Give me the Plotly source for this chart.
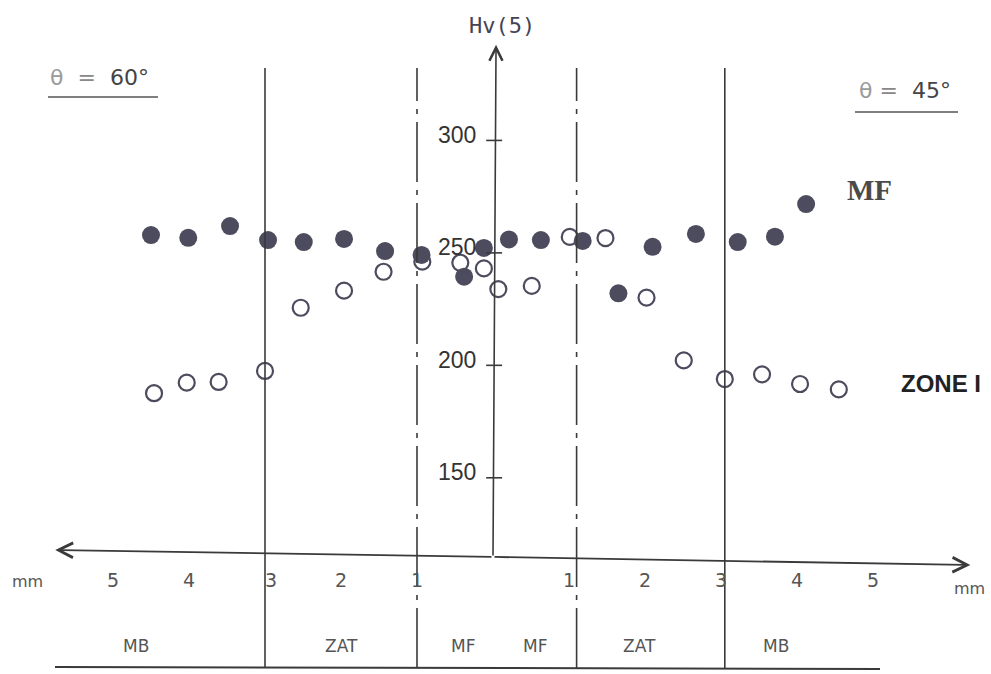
import plotly.graph_objects as go

# ---- data (mm from weld centre; left side negative) ----
mf_x = [-4.50, -4.01, -3.46, -2.96, -2.49, -1.96, -1.42, -0.94, -0.38, -0.12,
        0.21, 0.63, 1.18, 1.65, 2.10, 2.67, 3.22, 3.71, 4.12]
mf_hv = [257.9, 256.7, 261.9, 255.7, 254.8, 256.2, 250.8, 249.1, 239.4, 252.2,
         256.0, 255.7, 255.3, 232.0, 252.7, 258.4, 254.8, 257.2, 271.7]

zone_x = [-4.46, -4.03, -3.61, -3.00, -2.53, -1.96, -1.44, -0.93, -0.43, -0.12,
          0.07, 0.51, 1.01, 1.48, 2.02, 2.51, 3.05, 3.54, 4.04, 4.55]
zone_hv = [187.6, 192.3, 192.6, 197.5, 225.6, 233.2, 241.6, 246.1, 245.6, 243.1,
           233.9, 235.3, 257.1, 256.6, 230.1, 202.2, 193.9, 196.0, 191.7, 189.3]

y_ticks = [150, 200, 250, 300]
x_tick_vals = [-5, -4, -3, -2, -1, 1, 2, 3, 4, 5]
x_tick_text = ["5", "4", "3", "2", "1", "1", "2", "3", "4", "5"]
boundaries = [-3.0, -1.0, 1.1, 3.05]
zone_names = ["MB", "ZAT", "MF", "MF", "ZAT", "MB"]
zone_centres = [-4.70, -2.0, -0.40, 0.55, 1.93, 3.72]

W, H = 991, 674
X0, PXMM = 493, 76.0


def py(p):
    return 1 - p / H


dot = "#4c4c5e"
ink = "#3a3a3a"

fig = go.Figure()
fig.add_trace(go.Scatter(x=mf_x, y=mf_hv, mode="markers", name="MF",
                         marker=dict(size=18, color=dot, line=dict(width=0))))
fig.add_trace(go.Scatter(x=zone_x, y=zone_hv, mode="markers", name="ZONE I",
                         marker=dict(size=16, color="rgba(0,0,0,0)",
                                     line=dict(width=2.2, color=dot))))

x_range = [-X0 / PXMM, (W - X0) / PXMM]
y_range = [62.75, 362.44]

shapes = []
annotations = []

# zone boundaries
dash_styles = ["solid", "60px,8px,5px,8px", "60px,8px,5px,8px", "solid"]
for b, d in zip(boundaries, dash_styles):
    shapes.append(dict(type="line", xref="x", yref="paper", x0=b, x1=b,
                       y0=py(668), y1=py(68), line=dict(color=ink, width=1.6, dash=d)))

# bottom base line
shapes.append(dict(type="line", xref="paper", yref="paper", x0=55 / W, x1=880 / W,
                   y0=py(667), y1=py(669), line=dict(color=ink, width=2)))

# y axis with arrow
annotations.append(dict(x=0.04, y=342.5, ax=0, ay=114.8, xref="x", yref="y",
                        axref="x", ayref="y", text="", showarrow=True,
                        arrowhead=5, arrowsize=1.6, arrowwidth=1.6, arrowcolor=ink))
# x axis (two halves with arrows)
annotations.append(dict(x=-5.76, y=117.9, ax=0, ay=114.8, xref="x", yref="y",
                        axref="x", ayref="y", text="", showarrow=True,
                        arrowhead=5, arrowsize=1.6, arrowwidth=1.8, arrowcolor=ink))
annotations.append(dict(x=6.28, y=111.2, ax=0, ay=114.8, xref="x", yref="y",
                        axref="x", ayref="y", text="", showarrow=True,
                        arrowhead=5, arrowsize=1.6, arrowwidth=1.8, arrowcolor=ink))

# y ticks and labels
for t in y_ticks:
    shapes.append(dict(type="line", xref="x", yref="y", x0=-0.09, x1=0.12, y0=t, y1=t,
                       line=dict(color=ink, width=1.6)))
    annotations.append(dict(x=-0.2, y=t + 2.5, xref="x", yref="y", text=str(t),
                            showarrow=False, xanchor="right", yanchor="middle",
                            font=dict(family="Liberation Sans, Arial, sans-serif",
                                      size=23, color="#333333")))

# x tick labels
for v, s in zip(x_tick_vals, x_tick_text):
    annotations.append(dict(x=v + (0.08 if v == -3 else 0), y=py(580), xref="x", yref="paper",
                            text=s, showarrow=False, xanchor="center", yanchor="middle",
                            font=dict(family="DejaVu Sans, sans-serif", size=19, color="#555555")))
annotations.append(dict(x=27 / W, y=py(581), xref="paper", yref="paper", text="mm",
                        showarrow=False, xanchor="center", yanchor="middle",
                        font=dict(family="DejaVu Sans", size=16, color="#555555")))
annotations.append(dict(x=969 / W, y=py(588), xref="paper", yref="paper", text="mm",
                        showarrow=False, xanchor="center", yanchor="middle",
                        font=dict(family="DejaVu Sans", size=16, color="#555555")))

# zone labels
for n, c in zip(zone_names, zone_centres):
    annotations.append(dict(x=c, y=py(646), xref="x", yref="paper", text=n,
                            showarrow=False, xanchor="center", yanchor="middle",
                            font=dict(family="DejaVu Sans, sans-serif", size=17, color="#555555")))

# axis title
annotations.append(dict(x=502 / W, y=py(25), xref="paper", yref="paper", text="Hv(5)",
                        showarrow=False, xanchor="center", yanchor="middle",
                        font=dict(family="DejaVu Sans Mono, monospace", size=22, color="#444455")))

# theta labels
annotations.append(dict(x=48 / W, y=py(77), xref="paper", yref="paper",
                        text="<span style='color:#9a9a9a'>θ</span>  <span style='color:#888'>=</span>  60°",
                        showarrow=False, xanchor="left", yanchor="middle",
                        font=dict(family="DejaVu Sans, sans-serif", size=22, color="#444444")))
shapes.append(dict(type="line", xref="paper", yref="paper", x0=48 / W, x1=158 / W,
                   y0=py(97), y1=py(97), line=dict(color="#555555", width=1.6)))
annotations.append(dict(x=857 / W, y=py(90), xref="paper", yref="paper",
                        text="<span style='color:#9a9a9a'>θ</span> <span style='color:#888'>=</span>  45°",
                        showarrow=False, xanchor="left", yanchor="middle",
                        font=dict(family="DejaVu Sans, sans-serif", size=22, color="#444444")))
shapes.append(dict(type="line", xref="paper", yref="paper", x0=855 / W, x1=958 / W,
                   y0=py(112), y1=py(112), line=dict(color="#555555", width=1.6)))

# series labels
annotations.append(dict(x=869 / W, y=py(190), xref="paper", yref="paper", text="<b>MF</b>",
                        showarrow=False, xanchor="center", yanchor="middle",
                        font=dict(family="Liberation Serif, serif", size=29, color="#4a4a4a")))
annotations.append(dict(x=899 / W, y=py(383), xref="paper", yref="paper", text="<b>ZONE I</b>",
                        showarrow=False, xanchor="left", yanchor="middle",
                        font=dict(family="Liberation Sans, Arial, sans-serif",
                                  size=24, color="#222222")))

fig.update_layout(
    width=W, height=H, autosize=False,
    margin=dict(l=0, r=0, t=0, b=0),
    paper_bgcolor="white", plot_bgcolor="white",
    showlegend=False,
    xaxis=dict(range=x_range, visible=False, fixedrange=True),
    yaxis=dict(range=y_range, visible=False, fixedrange=True),
    shapes=shapes, annotations=annotations,
)

fig.write_html("out.html", config={"displayModeBar": False},
               post_script="document.body.style.margin='0';document.body.style.overflow='hidden';")
